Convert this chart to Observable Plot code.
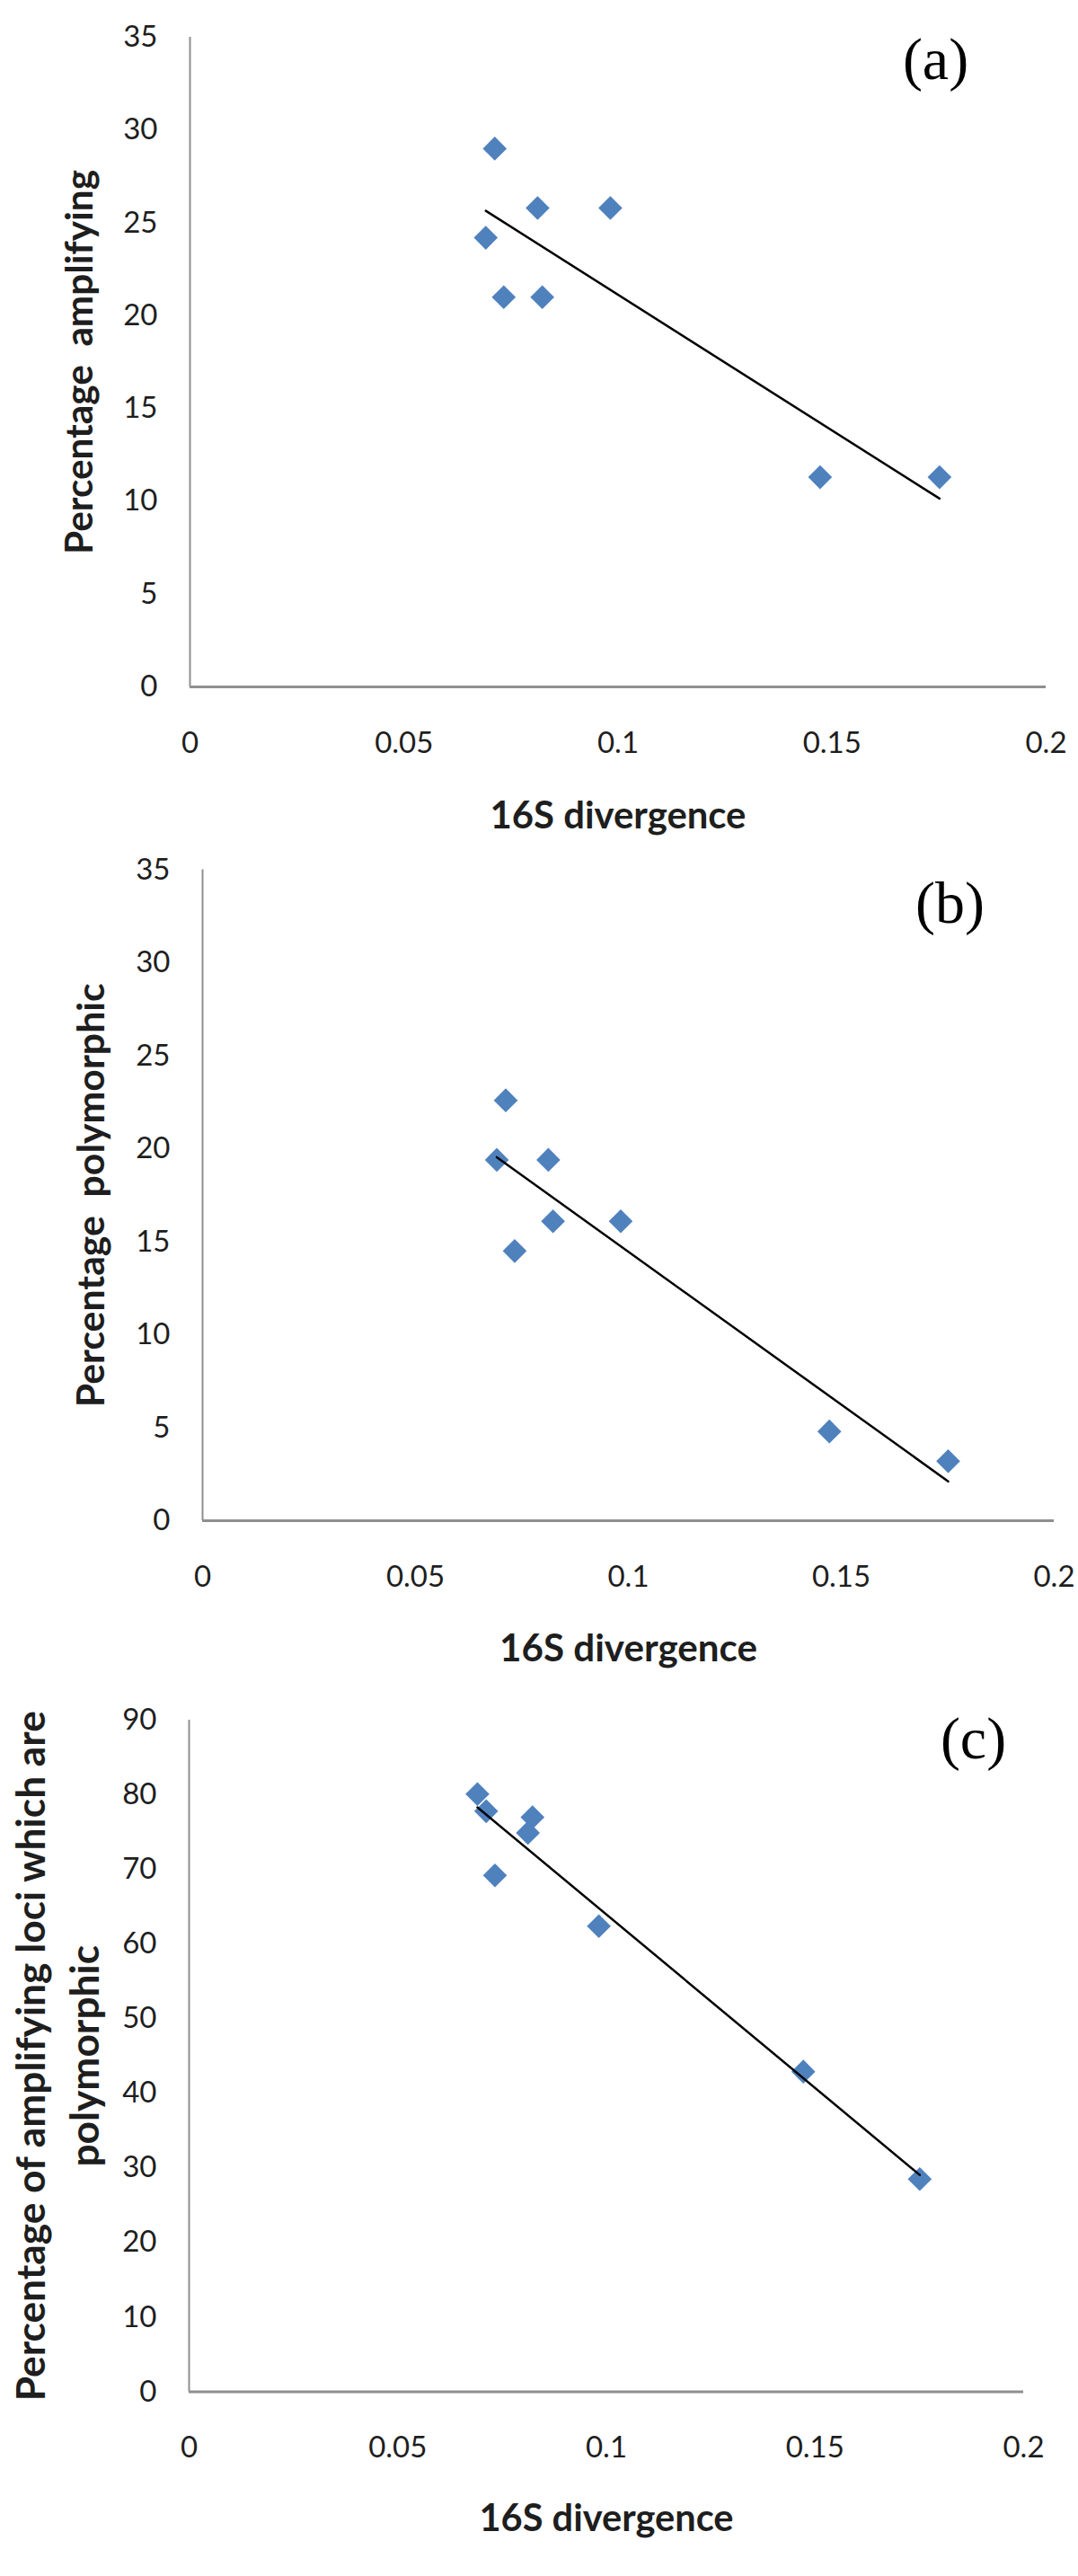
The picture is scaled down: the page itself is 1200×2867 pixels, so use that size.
<!DOCTYPE html>
<html>
<head>
<meta charset="utf-8">
<script src="https://cdn.jsdelivr.net/npm/d3@7"></script>
<script src="https://cdn.jsdelivr.net/npm/@observablehq/plot@0.6"></script>
<style>
  html, body { margin: 0; padding: 0; background: #ffffff; }
  #chart { width: 1200px; }
  #chart svg { display: block; }
</style>
</head>
<body>
<div id="chart"></div>
<script>
// ---- Data ----
const divergence = [0.0691, 0.0712, 0.0733, 0.0812, 0.0823, 0.0982, 0.1472, 0.1751];
const amplifying = [24.2, 29.0, 21.0, 25.8, 21.0, 25.8, 11.3, 11.3];
const polymorphic = [19.4, 22.6, 14.5, 19.4, 16.1, 16.1, 4.8, 3.2];
const polymorphicOfAmplifying = [80.1, 77.8, 69.2, 74.9, 77.0, 62.4, 42.9, 28.5];

const xTicks = [0, 0.05, 0.1, 0.15, 0.2];
const yTicksAB = [0, 5, 10, 15, 20, 25, 30, 35];
const yTicksC = [0, 10, 20, 30, 40, 50, 60, 70, 80, 90];
const xTitle = "16S divergence";
const yTitles = [
  "Percentage  amplifying",
  "Percentage  polymorphic",
  "Percentage of amplifying loci which are\npolymorphic"
];
const panelTags = ["(a)", "(b)", "(c)"];
const seriesList = [amplifying, polymorphic, polymorphicOfAmplifying];
const yDomains = [[0, 35], [0, 35], [0, 90]];
const yTickSets = [yTicksAB, yTicksAB, yTicksC];

// ---- Layout (per panel) ----
const layouts = [
  {height: 940, top: 41, bottom: 176, left: 211, right: 36, yTitleDx: -128, xTitleDy: 144, tagDx: -123, tagDy: 25,
   xTitleLen: 285, yTitleLen: 428},
  {height: 930, top: 27.5, bottom: 178, left: 225, right: 27, yTitleDx: -129, xTitleDy: 143, tagDx: -116, tagDy: 38,
   xTitleLen: 287, yTitleLen: 472},
  {height: 997, top: 44, bottom: 205.5, left: 210, right: 61, yTitleDx: -150, xTitleDy: 142, tagDx: -56, tagDy: 21,
   xTitleLen: 283, yTitleLen: 770}
];

const sansFamily = "Lato, 'Open Sans', sans-serif";
const ctx = document.createElement("canvas").getContext("2d");
function fitFontSize(text, targetWidth) {
  const base = 40;
  ctx.font = `bold ${base}px Lato`;
  const w = ctx.measureText(text).width || (text.length * 0.5 * base);
  return Math.max(28, Math.min(50, base * targetWidth / w));
}

const fmt = d3.format("~g");
const chart = document.getElementById("chart");

seriesList.forEach((series, i) => {
  const L = layouts[i];
  const data = divergence.map((d, j) => ({divergence: d, value: series[j]}));
  const firstLine = yTitles[i].split("\n")[0];
  const yTitleSize = fitFontSize(firstLine, L.yTitleLen);
  const xTitleSize = fitFontSize(xTitle, L.xTitleLen);
  const svg = Plot.plot({
    width: 1200,
    height: L.height,
    marginTop: L.top,
    marginBottom: L.bottom,
    marginLeft: L.left,
    marginRight: L.right,
    style: {fontFamily: sansFamily, fontSize: "33px", color: "#1e1e1e", background: "#ffffff"},
    x: {domain: [0, 0.2]},
    y: {domain: yDomains[i]},
    marks: [
      Plot.axisY(yTickSets[i], {tickSize: 0, tickPadding: 36, label: null}),
      Plot.axisX(xTicks, {tickSize: 0, tickPadding: 50, label: null, tickFormat: fmt}),
      Plot.ruleX([0], {stroke: "#8f8f8f", strokeWidth: 2}),
      Plot.ruleY([0], {stroke: "#8f8f8f", strokeWidth: 3}),
      Plot.dot(data, {x: "divergence", y: "value", symbol: "diamond2", r: 12, fill: "#4F81BD", stroke: "none"}),
      Plot.linearRegressionY(data, {x: "divergence", y: "value", stroke: "#000000", strokeWidth: 2.5, ci: 0}),
      Plot.text([yTitles[i]], {
        frameAnchor: "left", textAnchor: "middle", lineAnchor: "middle",
        rotate: -90, dx: L.yTitleDx, fontWeight: "bold", fontSize: yTitleSize,
        lineHeight: 60 / yTitleSize, fill: "#1e1e1e"
      }),
      Plot.text([xTitle], {
        frameAnchor: "bottom", textAnchor: "middle", lineAnchor: "middle",
        dy: L.xTitleDy, fontWeight: "bold", fontSize: xTitleSize, fill: "#1e1e1e"
      }),
      Plot.text([panelTags[i]], {
        frameAnchor: "top-right", textAnchor: "middle", lineAnchor: "middle",
        dx: L.tagDx, dy: L.tagDy, fontFamily: "'Liberation Serif', 'DejaVu Serif', serif", fontSize: 66, fill: "#000000"
      })
    ]
  });
  chart.appendChild(svg);
});
</script>
</body>
</html>
